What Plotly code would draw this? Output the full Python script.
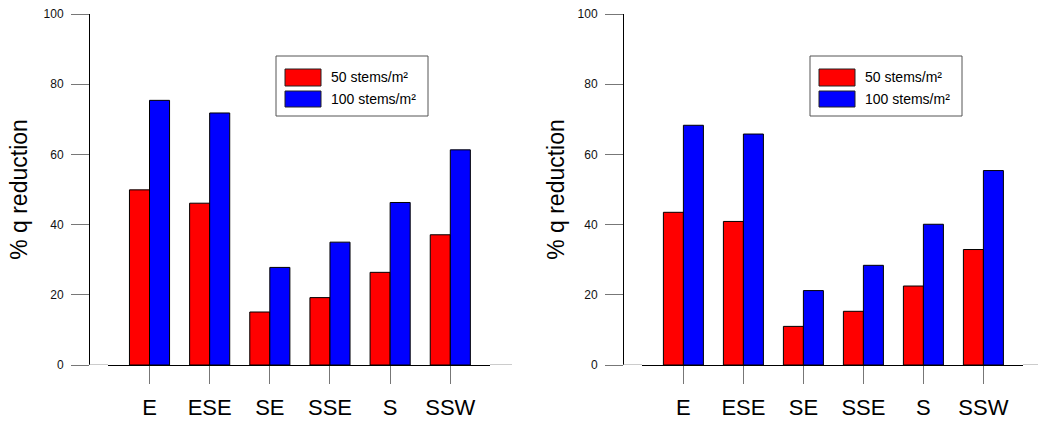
import plotly.graph_objects as go

W, H = 1039, 427

directions = ["E", "ESE", "SE", "SSE", "S", "SSW"]
left_50 = [49.9, 46.1, 15.1, 19.2, 26.4, 37.1]
left_100 = [75.4, 71.8, 27.8, 35.0, 46.3, 61.3]
right_50 = [43.5, 40.9, 11.0, 15.3, 22.5, 32.9]
right_100 = [68.3, 65.8, 21.2, 28.4, 40.1, 55.4]
y_ticks = [0, 20, 40, 60, 80, 100]
series_names = ["50 stems/m²", "100 stems/m²"]
series_colors = ["#FF0000", "#0000FF"]

FONT = "Liberation Sans, Arial, sans-serif"

def px(x):
    return x / W

def py(y):
    return 1 - y / H

fig = go.Figure()

panels = [
    dict(xa="x", ya="y", vals=(left_50, left_100)),
    dict(xa="x2", ya="y2", vals=(right_50, right_100)),
]
for p in panels:
    for name, col, vals in zip(series_names, series_colors, p["vals"]):
        fig.add_trace(go.Bar(
            x=directions, y=vals, name=name, xaxis=p["xa"], yaxis=p["ya"],
            marker=dict(color=col, line=dict(color="black", width=1)),
            showlegend=False,
        ))

y_top, y_bot = 14, 365
ydom = [py(y_bot), py(y_top)]

def xaxis_cfg(x0, x1, anchor):
    return dict(
        domain=[px(x0), px(x1)], anchor=anchor, type="category", automargin=False,
        range=[-0.69, 5.66], showline=True, linecolor="black", linewidth=1,
        ticks="outside", ticklen=18, tickcolor="#777", tickwidth=1,
        tickfont=dict(size=22, color="black", family=FONT),
        ticklabelstandoff=5, showgrid=False, zeroline=False,
    )

def yaxis_cfg(xpos, standoff):
    return dict(
        domain=ydom, anchor="free", position=px(xpos), range=[0, 100], automargin=False,
        tickvals=y_ticks, showline=True, linecolor="black", linewidth=1,
        ticks="outside", ticklen=18, tickcolor="#777", tickwidth=1,
        tickfont=dict(size=12, color="#111", family=FONT),
        ticklabelstandoff=5, showgrid=False, zeroline=False,
        title=dict(text="% q reduction", font=dict(size=23, color="black", family=FONT), standoff=standoff),
    )

fig.update_layout(
    width=W, height=H, margin=dict(l=0, r=0, t=0, b=0, autoexpand=False),
    paper_bgcolor="white", plot_bgcolor="white",
    barmode="group", bargap=1/3, bargroupgap=0,
    xaxis=xaxis_cfg(108, 490, "y"),
    yaxis=yaxis_cfg(89, 8),
    xaxis2=xaxis_cfg(642, 1023, "y2"),
    yaxis2=yaxis_cfg(623, 5),
    font=dict(family=FONT),
)

shapes = []
annotations = []
# gray baseline extensions at y=0
for (a, b), yref in [((89, 108), "y"), ((490, 512), "y"), ((623, 642), "y2"), ((1023, 1038), "y2")]:
    shapes.append(dict(type="line", xref="paper", yref=yref, x0=px(a), x1=px(b), y0=0, y1=0,
                       line=dict(color="#999", width=1)))

# manual legends
for bx0 in (276, 810):
    shapes.append(dict(type="rect", xref="paper", yref="paper",
                       x0=px(bx0), x1=px(bx0 + 152), y0=py(116), y1=py(56),
                       line=dict(color="#555", width=1), fillcolor="white", layer="above"))
    for i, (name, col) in enumerate(zip(series_names, series_colors)):
        sy0, sy1 = (69, 86) if i == 0 else (91, 107)
        shapes.append(dict(type="rect", xref="paper", yref="paper",
                           x0=px(bx0 + 9), x1=px(bx0 + 45), y0=py(sy1), y1=py(sy0),
                           line=dict(color="#222", width=1), fillcolor=col, layer="above"))
        annotations.append(dict(xref="paper", yref="paper", x=px(bx0 + 53), y=py((sy0 + sy1) / 2),
                                text=name, showarrow=False, xanchor="left", yanchor="middle",
                                font=dict(size=14, color="black", family=FONT)))

fig.update_layout(shapes=shapes, annotations=annotations)

fig.write_html("out.html", config={"displayModeBar": False},
               post_script="document.body.style.margin='0px';document.body.style.overflow='hidden';")
